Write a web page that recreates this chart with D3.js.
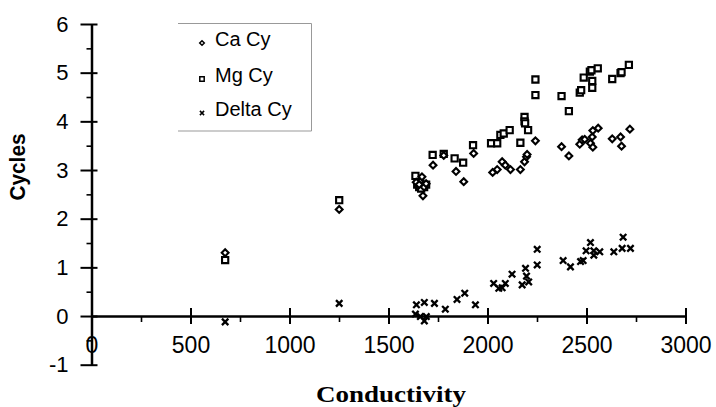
<!DOCTYPE html>
<html>
<head>
<meta charset="utf-8">
<script src="https://cdn.jsdelivr.net/npm/d3@7"></script>
<style>
body { margin: 0; background: #fff; }
svg { display: block; }
</style>
</head>
<body>
<script>
// values
var xTicks = [0, 500, 1000, 1500, 2000, 2500, 3000];
var xMinor = [250, 750, 1250, 1750, 2250, 2750];
var yTicks = [-1, 0, 1, 2, 3, 4, 5, 6];
var yMinor = [-0.5, 0.5, 1.5, 2.5, 3.5, 4.5, 5.5];

var caCond = [675, 1251, 1640, 1655, 1669, 1680, 1674, 1690, 1725, 1779, 1841, 1880, 1930, 2026, 2049, 2074, 2090, 2116, 2166, 2187, 2197, 2200, 2242, 2374, 2411, 2466, 2478, 2491, 2520, 2529, 2532, 2559, 2532, 2630, 2672, 2677, 2719];
var caVal  = [1.30, 2.19, 2.75, 2.70, 2.86, 2.65, 2.47, 2.72, 3.10, 3.30, 2.97, 2.76, 3.34, 2.95, 3.01, 3.17, 3.10, 3.01, 3.01, 3.17, 3.27, 3.32, 3.60, 3.48, 3.29, 3.53, 3.62, 3.63, 3.55, 3.68, 3.81, 3.86, 3.47, 3.64, 3.68, 3.49, 3.84];

var mgCond = [675, 1251, 1636, 1645, 1655, 1660, 1670, 1680, 1690, 1665, 1723, 1779, 1834, 1877, 1927, 2018, 2049, 2065, 2082, 2112, 2166, 2187, 2187, 2190, 2205, 2242, 2242, 2374, 2411, 2466, 2473, 2486, 2517, 2525, 2557, 2529, 2529, 2630, 2672, 2677, 2714];
var mgVal  = [1.15, 2.38, 2.88, 2.70, 2.65, 2.75, 2.68, 2.65, 2.70, 2.62, 3.31, 3.33, 3.24, 3.15, 3.51, 3.55, 3.55, 3.72, 3.75, 3.82, 3.56, 4.09, 4.00, 3.96, 3.82, 4.86, 4.54, 4.52, 4.21, 4.59, 4.64, 4.90, 5.02, 5.05, 5.09, 4.83, 4.69, 4.87, 4.99, 5.01, 5.16];

var deltaCond = [675, 1251, 1636, 1641, 1661, 1681, 1681, 1691, 1732, 1787, 1846, 1885, 1939, 2031, 2057, 2074, 2090, 2124, 2175, 2192, 2197, 2208, 2251, 2251, 2382, 2419, 2470, 2483, 2498, 2520, 2537, 2537, 2567, 2638, 2685, 2680, 2722];
var deltaVal  = [-0.12, 0.26, 0.04, 0.23, -0.01, 0.28, -0.10, -0.01, 0.26, 0.14, 0.34, 0.47, 0.23, 0.67, 0.57, 0.58, 0.67, 0.86, 0.64, 0.98, 0.82, 0.70, 1.05, 1.37, 1.14, 1.01, 1.12, 1.14, 1.34, 1.51, 1.34, 1.25, 1.32, 1.32, 1.62, 1.39, 1.39];

var seriesNames = ["Ca Cy", "Mg Cy", "Delta Cy"];

var w = 716, h = 407;
var svg = d3.select("body").append("svg").attr("width", w).attr("height", h);

var x = d3.scaleLinear().domain([0, 3000]).range([91.5, 685.5]);
var y = d3.scaleLinear().domain([-1, 6]).range([364.7, 24]);

var tickFont = "Arial, 'Liberation Sans', sans-serif";
var plain = function(d) { return String(d); };

// x axis at y = 0
var xAxisG = svg.append("g")
    .attr("transform", "translate(0," + y(0) + ")")
    .call(d3.axisBottom(x).tickValues(xTicks).tickFormat(plain).tickSizeOuter(0).tickSizeInner(8).tickPadding(13));
xAxisG.select(".domain").attr("stroke", "#000").attr("stroke-width", 2.5);
xAxisG.selectAll(".tick line").attr("y1", -8).attr("stroke", "#000").attr("stroke-width", 2);
xAxisG.selectAll(".tick text").attr("font-family", tickFont).attr("font-size", 23).attr("fill", "#000");

svg.append("g")
    .attr("transform", "translate(0," + y(0) + ")")
    .call(d3.axisBottom(x).tickValues(xMinor).tickSize(6).tickFormat(""))
    .call(function(g) { g.select(".domain").remove(); })
    .selectAll("line").attr("stroke", "#000").attr("stroke-width", 1.6);

// y axis at x = 0
var yAxisG = svg.append("g")
    .attr("transform", "translate(" + x(0) + ",0)")
    .call(d3.axisLeft(y).tickValues(yTicks).tickFormat(plain).tickSizeOuter(0).tickSizeInner(11).tickPadding(12));
yAxisG.select(".domain").attr("stroke", "#000").attr("stroke-width", 2.5);
yAxisG.selectAll(".tick line").attr("x1", 6).attr("stroke", "#000").attr("stroke-width", 2);
yAxisG.selectAll(".tick text").attr("font-family", tickFont).attr("font-size", 22).attr("fill", "#000");

svg.append("g")
    .attr("transform", "translate(" + x(0) + ",0)")
    .call(d3.axisLeft(y).tickValues(yMinor).tickSize(5).tickFormat(""))
    .call(function(g) { g.select(".domain").remove(); })
    .selectAll("line").attr("stroke", "#000").attr("stroke-width", 1.6);

// axis titles
svg.append("text")
    .attr("transform", "translate(25," + 167 + ") rotate(-90)")
    .attr("text-anchor", "middle")
    .attr("font-family", tickFont)
    .attr("font-weight", "bold")
    .attr("font-size", 22)
    .attr("textLength", 67).attr("lengthAdjust", "spacingAndGlyphs")
    .text("Cycles");

svg.append("text")
    .attr("x", 391).attr("y", 402)
    .attr("text-anchor", "middle")
    .attr("font-family", "'Liberation Serif', 'Times New Roman', serif")
    .attr("font-weight", "bold")
    .attr("font-size", 23)
    .attr("textLength", 150).attr("lengthAdjust", "spacingAndGlyphs")
    .text("Conductivity");

// markers
function diamond(s) { return "M0," + (-s) + "L" + s + ",0L0," + s + "L" + (-s) + ",0Z"; }
function square(s) { return "M" + (-s) + "," + (-s) + "H" + s + "V" + s + "H" + (-s) + "Z"; }
function cross(s) { return "M" + (-s) + "," + (-s) + "L" + s + "," + s + "M" + (-s) + "," + s + "L" + s + "," + (-s); }

var ca = caCond.map(function(c, i) { return [c, caVal[i]]; });
var mg = mgCond.map(function(c, i) { return [c, mgVal[i]]; });
var delta = deltaCond.map(function(c, i) { return [c, deltaVal[i]]; });

svg.append("g").selectAll("path")
    .data(mg).enter().append("path")
    .attr("transform", function(d) { return "translate(" + x(d[0]) + "," + y(d[1]) + ")"; })
    .attr("d", square(3.1))
    .attr("fill", "#fff").attr("stroke", "#000").attr("stroke-width", 2.1);

svg.append("g").selectAll("path")
    .data(ca).enter().append("path")
    .attr("transform", function(d) { return "translate(" + x(d[0]) + "," + y(d[1]) + ")"; })
    .attr("d", diamond(3.4))
    .attr("fill", "#fff").attr("stroke", "#000").attr("stroke-width", 2.1);

svg.append("g").selectAll("path")
    .data(delta).enter().append("path")
    .attr("transform", function(d) { return "translate(" + x(d[0]) + "," + y(d[1]) + ")"; })
    .attr("d", cross(3.2))
    .attr("fill", "none").attr("stroke", "#000").attr("stroke-width", 2.3);

// legend
var legend = svg.append("g");
legend.append("path")
    .attr("d", "M178,23.5H311.5V131H178")
    .attr("fill", "none").attr("stroke", "#999").attr("stroke-width", 1);

var legendY = [39, 75, 109];
var legendShape = [diamond(2.3), square(2.2), cross(2.1)];
legend.selectAll(".item")
    .data(seriesNames).enter().append("g")
    .attr("transform", function(d, i) { return "translate(202," + legendY[i] + ")"; })
    .each(function(d, i) {
        var g = d3.select(this);
        g.append("path")
            .attr("transform", "translate(0,4)")
            .attr("d", legendShape[i])
            .attr("fill", i == 2 ? "none" : "#fff")
            .attr("stroke", "#000").attr("stroke-width", 1.5);
        g.append("text")
            .attr("x", 13).attr("dy", "0.35em")
            .attr("font-family", tickFont)
            .attr("font-size", 20)
            .text(d);
    });
</script>
</body>
</html>
